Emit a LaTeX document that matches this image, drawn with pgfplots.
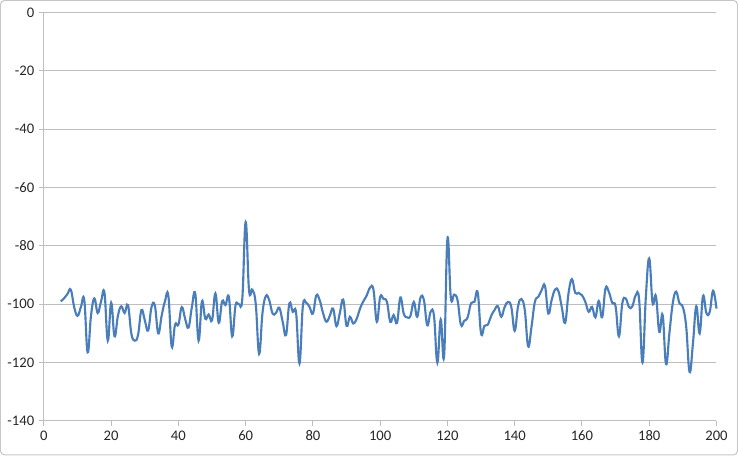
\documentclass[border=0pt]{standalone}
\usepackage{fontspec}
\setmainfont{Carlito}
\usepackage{pgfplots}
\pgfplotsset{compat=1.18}
\definecolor{xlblue}{RGB}{74,126,187}
\definecolor{gridgray}{RGB}{190,190,190}
\begin{document}
\begin{tikzpicture}
\begin{axis}[
  scale only axis,
  width=505.1pt, height=306.75pt,
  xmin=0, xmax=200, ymin=-140, ymax=0,
  axis lines=left,
  axis line style={gridgray, line width=0.75pt, -},
  xtick={0,20,...,200},
  xticklabels={0,20,40,60,80,100,120,140,160,180,200},
  ytick={-140,-120,...,0},
  yticklabels={-140,-120,-100,-80,-60,-40,-20,0},
  tick align=outside,
  major tick length=3.75pt,
  tick style={gridgray, line width=0.75pt},
  ymajorgrids,
  grid style={gridgray, line width=0.75pt},
  tick label style={font=\fontsize{11}{13}\selectfont, text=black!85},
  clip=false,
]
\addplot[xlblue, line width=1.6pt, smooth, tension=0.7, no markers] coordinates {
(5,-99) (6,-98) (7,-96.5) (8,-95) (9,-101) (10,-104) (11,-101) (12,-98.5)
(13,-116.5) (14,-104) (15,-98) (16,-103) (17,-99) (18,-96) (19,-112.5) (20,-99.5)
(21,-111) (22,-104) (23,-100.7) (24,-103) (25,-100.3) (26,-110) (27,-112.5) (28,-110.5)
(29,-102) (30,-105.5) (31,-109) (32,-101) (33,-100.5) (34,-110) (35,-104) (36,-99)
(37,-97) (38,-114.5) (39,-107) (40,-107) (41,-101) (42,-105) (43,-108) (44,-101)
(45,-96.3) (46,-112.5) (47,-99) (48,-105) (49,-103.5) (50,-105.5) (51,-96.3) (52,-106.4)
(53,-99) (54,-100.3) (55,-97.5) (56,-111) (57,-100.3) (58,-100) (59,-98) (60,-71.8)
(61,-95.2) (62,-95) (63,-100) (64,-117) (65,-103) (66,-97.2) (67,-98.6) (68,-103.2)
(69,-103) (70,-101.2) (71,-106) (72,-110.6) (73,-99.7) (74,-102.6) (75,-103) (76,-120.3)
(77,-100.7) (78,-99.5) (79,-101) (80,-103.2) (81,-97) (82,-98.6) (83,-103) (84,-106)
(85,-104) (86,-101.5) (87,-107.5) (88,-103) (89,-98.4) (90,-107.4) (91,-104.3) (92,-106.6)
(93,-105) (94,-101.5) (95,-99) (96,-97) (97,-94.3) (98,-95) (99,-106) (100,-97.5)
(101,-98.2) (102,-99.2) (103,-106) (104,-103.7) (105,-106.4) (106,-97.7) (107,-103.2) (108,-104.5)
(109,-104) (110,-99.2) (111,-104.3) (112,-97.7) (113,-98.6) (114,-107.2) (115,-102.6) (116,-104)
(117,-120) (118,-105.2) (119,-117.8) (120,-77.5) (121,-97.7) (122,-96.7) (123,-98.6) (124,-107)
(125,-105.7) (126,-104.5) (127,-99.7) (128,-99.2) (129,-96) (130,-110) (131,-107.4) (132,-107)
(133,-104) (134,-102) (135,-100.7) (136,-104.3) (137,-101) (138,-99.2) (139,-101) (140,-109.1)
(141,-100.7) (142,-98.2) (143,-102) (144,-114.4) (145,-107.7) (146,-99.2) (147,-97.5) (148,-95.2)
(149,-93.7) (150,-103.2) (151,-98.5) (152,-95) (153,-95.5) (154,-101) (155,-106.4) (156,-96.3)
(157,-91.4) (158,-96.1) (159,-96.1) (160,-96.9) (161,-99.2) (162,-102.6) (163,-100.9) (164,-104.5)
(165,-98.9) (166,-104.5) (167,-94.6) (168,-95.8) (169,-99.5) (170,-100.7) (171,-111) (172,-99.7)
(173,-98) (174,-101) (175,-100.7) (176,-96.9) (177,-98.4) (178,-120) (179,-97.5) (180,-84.3)
(181,-99.5) (182,-97.2) (183,-109.5) (184,-103.7) (185,-120.5) (186,-110) (187,-99.7) (188,-95.7)
(189,-99.7) (190,-101) (191,-107.7) (192,-123.2) (193,-113.5) (194,-100.7) (195,-110) (196,-97.2)
(197,-103) (198,-102.6) (199,-95.4) (200,-101.5)
};
\end{axis}
% chart border
\draw[gray!45, line width=0.75pt, rounded corners=3pt] (-32.6pt,-25.5pt) rectangle (520.9pt,315.75pt);
\end{tikzpicture}
\end{document}
